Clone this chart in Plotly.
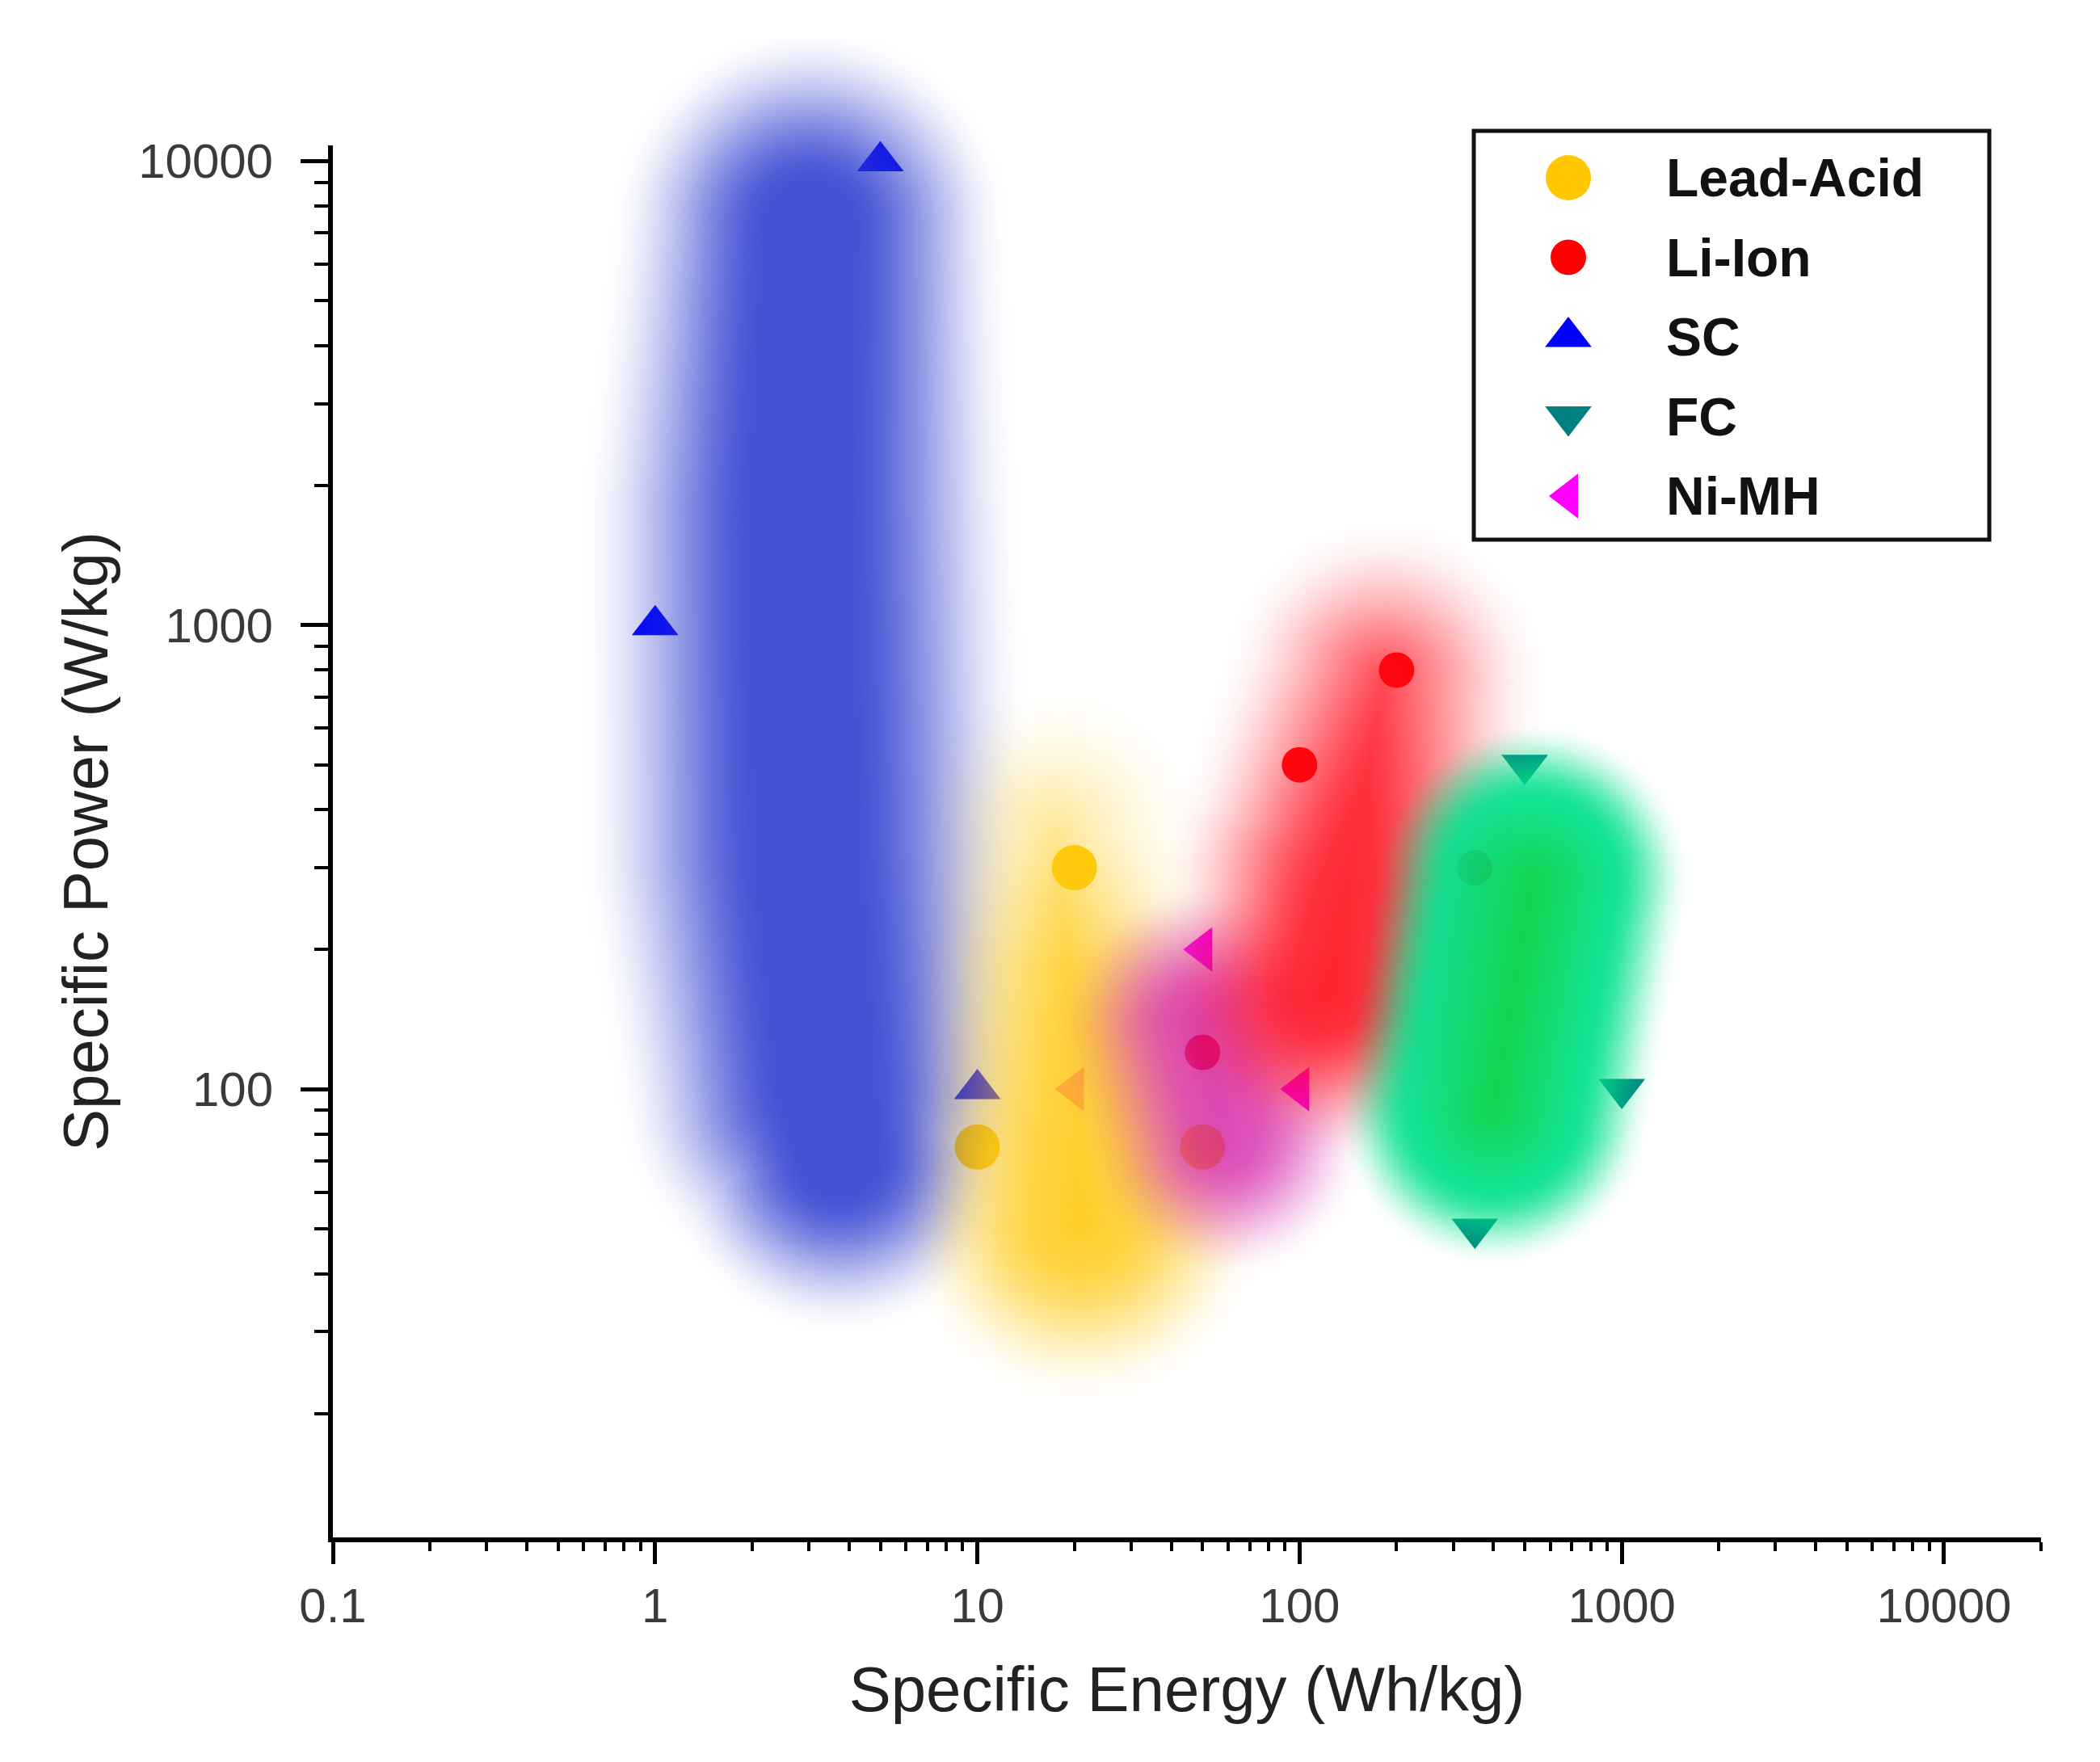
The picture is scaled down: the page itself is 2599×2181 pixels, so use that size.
import numpy as np
import plotly.graph_objects as go

# ---------------- data ----------------
series_names = ["Lead-Acid", "Li-Ion", "SC", "FC", "Ni-MH"]

lead_acid_energy = [10, 20, 50]
lead_acid_power = [75, 300, 75]
li_ion_energy = [50, 100, 200, 350]
li_ion_power = [120, 500, 800, 300]
sc_energy = [1, 5, 10]
sc_power = [1000, 10000, 100]
fc_energy = [350, 500, 1000]
fc_power = [50, 500, 100]
nimh_energy = [20, 50, 100]
nimh_power = [100, 200, 100]

x_tick_vals = [0.1, 1, 10, 100, 1000, 10000]
x_tick_text = ["0.1", "1", "10", "100", "1000", "10000"]
y_tick_vals = [100, 1000, 10000]
y_tick_text = ["100", "1000", "10000"]
x_limits = [0.1, 20000]
y_limits = [10.81, 10810]

# shaded technology regions: spine points (energy, power), half-width (decades), strength
sc_region_energy = [3.02, 2.82, 2.95, 3.39, 3.72]
sc_region_power = [7240, 1778, 316, 100, 72]
sc_region_width = [0.38, 0.42, 0.43, 0.40, 0.34]
sc_region_strength = [1.0, 1.0, 1.0, 1.0, 1.0]
lead_region_energy = [17.4, 19.1, 20.9]
lead_region_power = [355, 178, 52]
lead_region_width = [0.30, 0.32, 0.36]
lead_region_strength = [0.45, 0.75, 1.0]
nimh_region_energy = [47.9, 58.9]
nimh_region_power = [138, 79]
nimh_region_width = [0.28, 0.28]
nimh_region_strength = [1.0, 1.0]
li_region_energy = [182, 141, 123]
li_region_power = [759, 282, 162]
li_region_width = [0.32, 0.37, 0.33]
li_region_strength = [0.65, 0.9, 1.0]
fc_region_energy = [525, 398]
fc_region_power = [282, 91]
fc_region_width = [0.33, 0.33]
fc_region_strength = [1.0, 1.0]

# ---------------- styles ----------------
series_x = [lead_acid_energy, li_ion_energy, sc_energy, fc_energy, nimh_energy]
series_y = [lead_acid_power, li_ion_power, sc_power, fc_power, nimh_power]
series_colors = ["#FFC800", "#FF0000", "#0000FF", "#008080", "#FF00FF"]
series_symbols = ["circle", "circle", "triangle-up", "triangle-down", "triangle-left"]
series_sizes = [56, 44, 50, 50, 48]

FONT = "Liberation Sans, Arial, sans-serif"
W, H = 2599, 2181
ML, MR, MT, MB = 404, 81, 40, 286
plot_w = W - ML - MR
plot_h = H - MT - MB
axis_top_px = 172
ydom_top = (H - MB - axis_top_px) / plot_h

lx0, lx1 = np.log10(x_limits)
ly0, ly1 = np.log10(y_limits)
ppd_x = plot_w / (lx1 - lx0)
ppd_y = plot_h * ydom_top / (ly1 - ly0)
aspect = ppd_y / ppd_x
ly2_top = ly0 + plot_h / ppd_y

# region order bottom -> top, with rendering style
regions = [
    dict(e=sc_region_energy, p=sc_region_power, w=sc_region_width, s=sc_region_strength,
         q0=0.3, q1=1.65, core=(40, 55, 206), edge=(40, 55, 206), amax=0.87),
    dict(e=lead_region_energy, p=lead_region_power, w=lead_region_width, s=lead_region_strength,
         q0=0.25, q1=1.6, core=(255, 196, 0), edge=(255, 202, 25), amax=0.86),
    dict(e=nimh_region_energy, p=nimh_region_power, w=nimh_region_width, s=nimh_region_strength,
         q0=0.2, q1=1.6, core=(205, 12, 162), edge=(210, 20, 165), amax=0.74),
    dict(e=li_region_energy, p=li_region_power, w=li_region_width, s=li_region_strength,
         q0=0.25, q1=1.6, core=(255, 0, 11), edge=(255, 10, 25), amax=0.86),
    dict(e=fc_region_energy, p=fc_region_power, w=fc_region_width, s=fc_region_strength,
         q0=0.75, q1=1.5, core=(0, 209, 67), edge=(0, 225, 138), amax=0.93),
]


def region_field(reg, step=0.01):
    lx = np.log10(reg["e"])
    ly = np.log10(reg["p"])
    r = np.array(reg["w"], dtype=float)
    st = np.array(reg["s"], dtype=float)
    q1 = reg["q1"]
    pad = r.max() * q1 + 0.02
    gx = np.arange(lx.min() - pad, lx.max() + pad, step)
    gy = np.arange(ly.min() - pad / aspect, ly.max() + pad / aspect, step / aspect)
    X, Y = np.meshgrid(gx, gy)
    sx, sy = X, Y * aspect
    z = np.zeros(X.shape)
    for i in range(len(lx) - 1):
        ax_, ay_ = lx[i], ly[i] * aspect
        bx_, by_ = lx[i + 1], ly[i + 1] * aspect
        vx, vy = bx_ - ax_, by_ - ay_
        t = np.clip(((sx - ax_) * vx + (sy - ay_) * vy) / (vx * vx + vy * vy), 0, 1)
        d = np.hypot(sx - (ax_ + t * vx), sy - (ay_ + t * vy))
        rr = r[i] + t * (r[i + 1] - r[i])
        ss = st[i] + t * (st[i + 1] - st[i])
        z = np.maximum(z, ss * np.clip(1 - (d / rr) / q1, 0, 1))
    return gx, gy, np.round(z, 3)


def region_scale(reg):
    zf = 1 - reg["q0"] / reg["q1"]
    core, edge, amax = reg["core"], reg["edge"], reg["amax"]
    stops = []
    for k in range(13):
        s = k / 12
        a = amax * s * s * (3 - 2 * s)
        stops.append([zf * s, "rgba(%d,%d,%d,%.3f)" % (edge[0], edge[1], edge[2], a)])
    for j in range(1, 5):
        f = j / 4
        c = [edge[m] + (core[m] - edge[m]) * f for m in range(3)]
        stops.append([zf + (1 - zf) * f, "rgba(%d,%d,%d,%.3f)" % (c[0], c[1], c[2], amax)])
    return stops


fig = go.Figure()

# data markers (main subplot, drawn beneath the shaded regions)
for name, xs, ys, col, sym, sz in zip(series_names, series_x, series_y,
                                      series_colors, series_symbols, series_sizes):
    fig.add_trace(go.Scatter(
        x=xs, y=ys, mode="markers", name=name, showlegend=False,
        marker=dict(color=col, symbol=sym, size=sz, opacity=1, line=dict(width=0)),
        xaxis="x", yaxis="y", cliponaxis=False))

# shaded regions on an overlay of hidden linear axes in decade units
for reg in regions:
    gx, gy, z = region_field(reg)
    fig.add_trace(go.Heatmap(
        x=gx, y=gy, z=z, zmin=0, zmax=1, zsmooth="best",
        colorscale=region_scale(reg), showscale=False, hoverinfo="skip",
        xaxis="x2", yaxis="y2"))

# legend (custom, drawn on its own hidden axes so glyphs keep their size)
leg_left, leg_right, leg_top, leg_bot = 1816, 2454, 154, 660
row0, row_gap = 212, 98.5
leg_rows = -np.arange(len(series_names))
mark_x = (1933 - leg_left) / (leg_right - leg_left)
text_x = (2052 - leg_left) / (leg_right - leg_left)
fig.add_trace(go.Scatter(
    x=[mark_x] * len(series_names), y=leg_rows, mode="markers", showlegend=False,
    marker=dict(color=series_colors, symbol=series_symbols, size=series_sizes,
                opacity=1, line=dict(width=0)),
    hoverinfo="skip", xaxis="x3", yaxis="y3", cliponaxis=False))

annotations = []
for name, yy in zip(series_names, leg_rows):
    annotations.append(dict(
        x=text_x, y=yy, xref="x3", yref="y3", text=name, showarrow=False,
        xanchor="left", yanchor="middle",
        font=dict(family=FONT, size=66, color="#111111", weight="bold")))

shapes = [dict(type="rect", xref="paper", yref="paper",
               x0=(leg_left - ML) / plot_w, x1=(leg_right - ML) / plot_w,
               y0=(H - MB - leg_bot) / plot_h, y1=(H - MB - leg_top) / plot_h,
               line=dict(color="#111111", width=5), fillcolor="rgba(0,0,0,0)", layer="above")]

x_minor = [d * 10.0 ** k for k in range(-1, 5) for d in range(2, 10)
           if x_limits[0] <= d * 10.0 ** k <= x_limits[1]]
y_minor = [d * 10.0 ** k for k in range(1, 5) for d in range(2, 10)
           if y_limits[0] <= d * 10.0 ** k <= y_limits[1]]

tickfont = dict(family=FONT, size=60, color="#3a3a3a")
titlefont = dict(family=FONT, size=78, color="#222222")

fig.update_layout(
    width=W, height=H,
    margin=dict(l=ML, r=MR, t=MT, b=MB, autoexpand=False),
    paper_bgcolor="white", plot_bgcolor="rgba(0,0,0,0)",
    showlegend=False,
    font=dict(family=FONT),
    xaxis=dict(
        type="log", range=[lx0, lx1], domain=[0, 1], anchor="y",
        showline=True, linecolor="black", linewidth=6, mirror=False,
        ticks="outside", ticklen=27, tickwidth=5, tickcolor="black",
        tickmode="array", tickvals=x_tick_vals, ticktext=x_tick_text, tickfont=tickfont,
        minor=dict(tickmode="array", tickvals=x_minor, ticks="outside",
                   ticklen=11, tickwidth=4, tickcolor="black", showgrid=False),
        showgrid=False, zeroline=False,
        title=dict(text="Specific Energy (Wh/kg)", font=titlefont, standoff=45)),
    yaxis=dict(
        type="log", range=[ly0, ly1], domain=[0, ydom_top], anchor="x",
        showline=True, linecolor="black", linewidth=6, mirror=False,
        ticks="outside", ticklen=34, tickwidth=5, tickcolor="black",
        tickmode="array", tickvals=y_tick_vals, ticktext=y_tick_text, tickfont=tickfont,
        ticklabelstandoff=22,
        minor=dict(tickmode="array", tickvals=y_minor, ticks="outside",
                   ticklen=17, tickwidth=4, tickcolor="black", showgrid=False),
        showgrid=False, zeroline=False,
        title=dict(text="Specific Power (W/kg)", font=titlefont, standoff=14)),
    xaxis2=dict(range=[lx0, lx1], domain=[0, 1], anchor="y2", visible=False, fixedrange=True),
    yaxis2=dict(range=[ly0, ly2_top], domain=[0, 1], anchor="x2", visible=False, fixedrange=True),
    xaxis3=dict(range=[0, 1], domain=[(leg_left - ML) / plot_w, (leg_right - ML) / plot_w],
                anchor="y3", visible=False, fixedrange=True),
    yaxis3=dict(range=[-(leg_bot - row0) / row_gap, (row0 - leg_top) / row_gap],
                domain=[(H - MB - leg_bot) / plot_h, (H - MB - leg_top) / plot_h],
                anchor="x3", visible=False, fixedrange=True),
    annotations=annotations,
    shapes=shapes,
)

fig.write_html("out.html")
